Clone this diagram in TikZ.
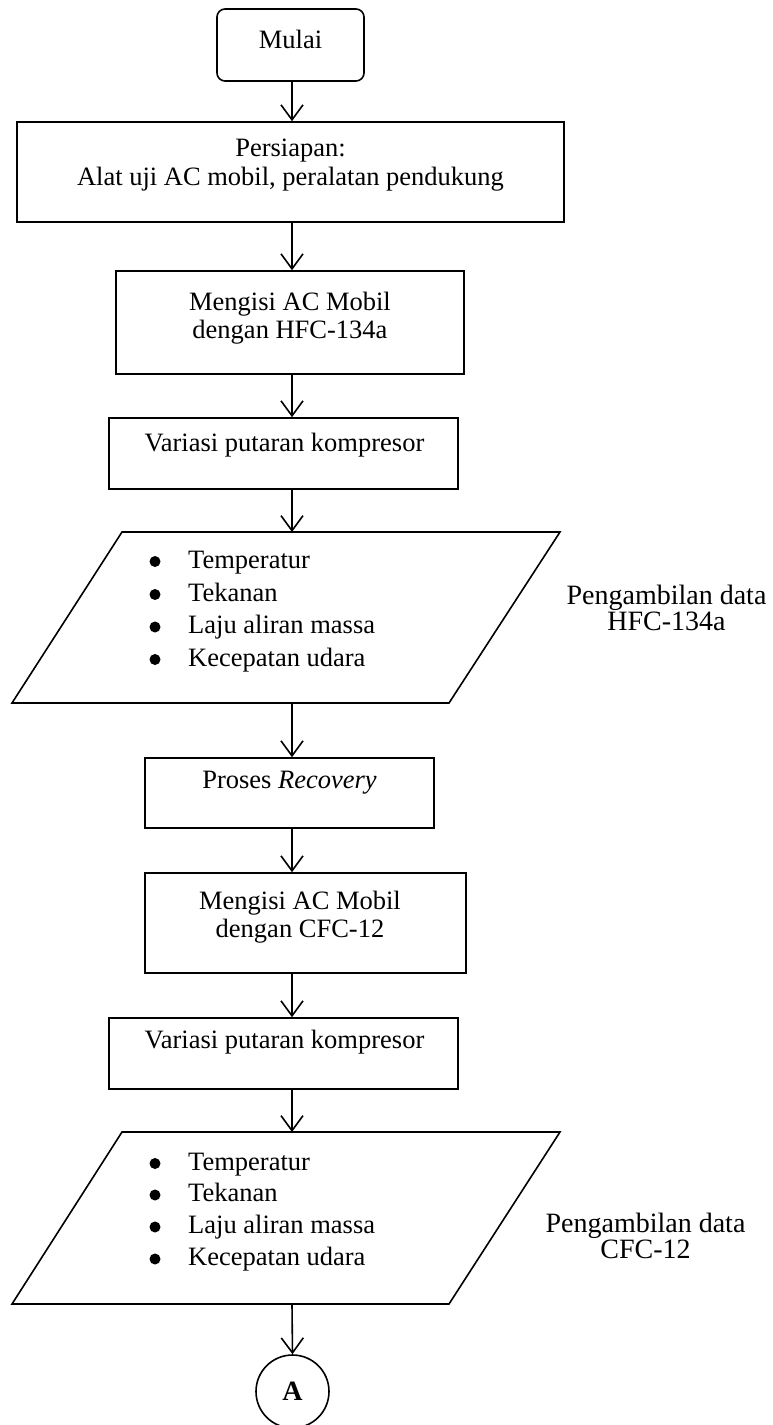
\documentclass[tikz,border=0pt]{standalone}
\usepackage{fontspec}
\setmainfont{Liberation Serif}
\usetikzlibrary{arrows.meta}
\begin{document}
\begin{tikzpicture}[x=1pt,y=-1pt,
  ln/.style={line width=1.6pt},
  boxnode/.style={ln, draw, inner sep=0pt},
  txt/.style={inner sep=0pt, align=center, font=\fontsize{26.5}{29}\selectfont},
  item/.style={inner sep=0pt, anchor=west, text height=18pt, text depth=6pt, font=\fontsize{26.5}{29}\selectfont},
  dot/.style={circle, fill, inner sep=0pt, minimum size=11pt},
  lbl/.style={inner sep=0pt, anchor=base, text height=19pt, text depth=5pt, font=\fontsize{28}{28}\selectfont},
  arr/.style={ln, -{Straight Barb[length=15pt,width=22pt]}}]
\useasboundingbox (0,0) rectangle (773,1425);
\coordinate (ax) at (292,0);
% start
\node[boxnode, rounded corners=8pt, minimum width=147, minimum height=72] (mulai) at (290.5,45) {};
\node[txt] (tmulai) at (290.5,39) {Mulai};
% persiapan
\node[boxnode, minimum width=547, minimum height=100] (persiapan) at (290.5,172) {};
\node[txt] (tpersiapan) at (290.5,165.5) {Persiapan:\\Alat uji AC mobil, peralatan pendukung};
% mengisi HFC
\node[boxnode, minimum width=348, minimum height=103] (isi1) at (290,322.5) {};
\node[txt, font=\fontsize{26.5}{28}\selectfont] (tisi1) at (290,318.5) {Mengisi AC Mobil\\dengan HFC-134a};
% variasi 1
\node[boxnode, minimum width=349, minimum height=71] (var1) at (283.5,453.5) {};
\node[txt] (tvar1) at (284.5,445) {Variasi putaran kompresor};
% data HFC
\draw[ln] (122,532) -- (560,532) -- (449,703) -- (12,703) -- cycle;
\coordinate (p1top) at (292,532);
\coordinate (p1bot) at (292,703);
\foreach \n/\yy/\t in {1/560/Temperatur, 2/593/Tekanan, 3/625.5/Laju aliran massa, 4/658/Kecepatan udara}{
  \node[dot] (da\n) at (155,\yy+1.5) {};
  \node[item] (ia\n) at (188,\yy+2) {\t};
}
\node[lbl] (lab1a) at (666.5,604) {Pengambilan data};
\node[lbl] (lab1b) at (666.5,630) {HFC-134a};
% recovery
\node[boxnode, minimum width=289, minimum height=70] (rec) at (289.5,793) {};
\node[txt] (trec) at (289.5,783) {Proses \textit{Recovery}};
% mengisi CFC
\node[boxnode, minimum width=321, minimum height=100] (isi2) at (305.5,923) {};
\node[txt, font=\fontsize{26.5}{28}\selectfont] (tisi2) at (300,917) {Mengisi AC Mobil\\dengan CFC-12};
% variasi 2
\node[boxnode, minimum width=349, minimum height=71] (var2) at (283.5,1053.5) {};
\node[txt] (tvar2) at (284.5,1042) {Variasi putaran kompresor};
% data CFC
\draw[ln] (122,1132) -- (560,1132) -- (449,1304) -- (12,1304) -- cycle;
\coordinate (p2top) at (292,1132);
\coordinate (p2bot) at (292,1304);
\foreach \n/\yy/\t in {1/1162/Temperatur, 2/1193.5/Tekanan, 3/1225.5/Laju aliran massa, 4/1257.5/Kecepatan udara}{
  \node[dot] (db\n) at (155,\yy+1.5) {};
  \node[item] (ib\n) at (188,\yy+2) {\t};
}
\node[lbl] (lab2a) at (645.5,1232) {Pengambilan data};
\node[lbl] (lab2b) at (645.5,1258) {CFC-12};
% connector A
\node[ln, draw, circle, minimum size=73, inner sep=0pt, font=\fontsize{28}{30}\selectfont\bfseries] (A) at (292.5,1391.5) {A};
% arrows
\draw[arr] (mulai.south -| ax) -- (persiapan.north -| ax);
\draw[arr] (persiapan.south -| ax) -- (isi1.north -| ax);
\draw[arr] (isi1.south -| ax) -- (var1.north -| ax);
\draw[arr] (var1.south -| ax) -- (p1top);
\draw[arr] (p1bot) -- (rec.north -| ax);
\draw[arr] (rec.south -| ax) -- (isi2.north -| ax);
\draw[arr] (isi2.south -| ax) -- (var2.north -| ax);
\draw[arr] (var2.south -| ax) -- (p2top);
\draw[arr] (p2bot) -- (A.north);
\end{tikzpicture}
\end{document}
